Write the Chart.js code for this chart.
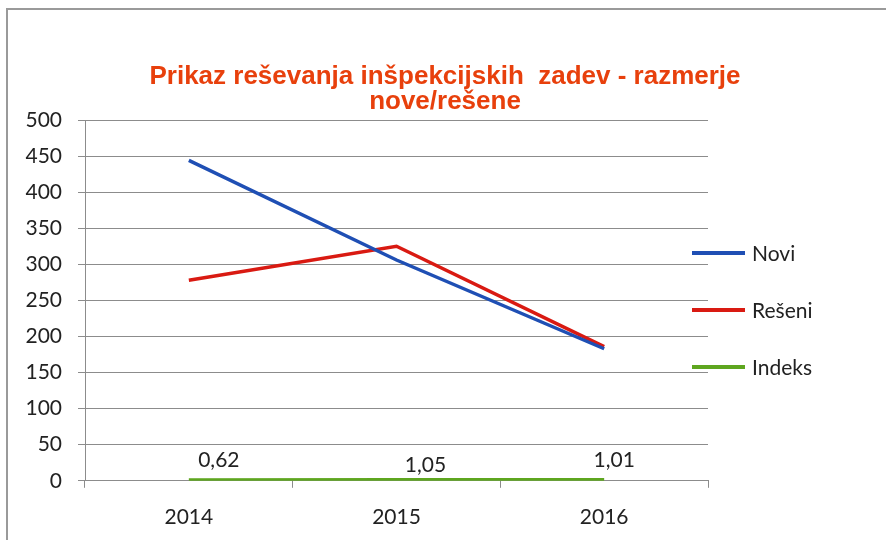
<!DOCTYPE html>
<html>
<head>
<meta charset="utf-8">
<script src="https://cdn.jsdelivr.net/npm/chart.js@4/dist/chart.umd.min.js"></script>
<style>
  html, body { margin: 0; padding: 0; background: #fff; }
  #wrap { position: relative; width: 886px; height: 540px; }
  #frame { position: absolute; left: 6px; top: 8px; width: 890px; height: 540px;
           border-left: 2px solid #9a9a9a; border-top: 2px solid #9a9a9a; }
  canvas { position: absolute; left: 0; top: 0; }
</style>
</head>
<body>
<div id="wrap">
  <div id="frame"></div>
  <canvas id="chart" width="886" height="540"></canvas>
</div>
<script>
// categories and series
var years = ['2014', '2015', '2016'];
var novi = [444, 306, 183];
var reseni = [278, 325, 186];
var indeks = [0.62, 1.05, 1.01];
var indeksLabels = ['0,62', '1,05', '1,01'];
var yTicks = [0, 50, 100, 150, 200, 250, 300, 350, 400, 450, 500];
var titleLines = ['Prikaz reševanja inšpekcijskih  zadev - razmerje', 'nove/rešene'];

var tickFont = { family: 'Lato, "Open Sans", sans-serif', size: 21 };

// title centred on the whole canvas, not just the plot
var titlePlugin = {
  id: 'pageTitle',
  afterDraw: function(chart) {
    var ctx = chart.ctx;
    ctx.save();
    ctx.font = 'bold 26px "Liberation Sans", Arial, sans-serif';
    ctx.fillStyle = '#e8400c';
    ctx.textAlign = 'center';
    ctx.textBaseline = 'alphabetic';
    titleLines.forEach(function(t, i) {
      ctx.fillText(t, chart.width / 2 + 2, 84 + i * 25);
    });
    ctx.restore();
  }
};

// labels above the Indeks line (Excel had them nudged to the right)
var indeksLabelPlugin = {
  id: 'indeksLabels',
  afterDatasetsDraw: function(chart) {
    var ctx = chart.ctx;
    var meta = chart.getDatasetMeta(2);
    var dx = [30, 29, 10];
    var dy = [-20, -15, -20];
    ctx.save();
    ctx.font = '21px Lato, "Open Sans", sans-serif';
    ctx.fillStyle = '#222';
    ctx.textAlign = 'center';
    ctx.textBaseline = 'middle';
    meta.data.forEach(function(pt, i) {
      ctx.fillText(indeksLabels[i], pt.x + dx[i], pt.y + dy[i]);
    });
    ctx.restore();
  }
};

// Excel-style legend that sits partly over the plot area
var sideLegendPlugin = {
  id: 'sideLegend',
  afterDraw: function(chart) {
    var ctx = chart.ctx;
    var area = chart.chartArea;
    ctx.save();
    ctx.font = '21px Lato, "Open Sans", sans-serif';
    ctx.textBaseline = 'middle';
    chart.data.datasets.forEach(function(ds, i) {
      var y = area.top + 133 + i * 57;
      var x0 = area.right - 16;
      ctx.strokeStyle = ds.borderColor;
      ctx.lineWidth = 4;
      ctx.beginPath();
      ctx.moveTo(x0, y);
      ctx.lineTo(x0 + 53, y);
      ctx.stroke();
      ctx.fillStyle = '#222';
      ctx.fillText(ds.label, x0 + 60, y + 1);
    });
    ctx.restore();
  }
};

var ctx = document.getElementById('chart').getContext('2d');
var chart = new Chart(ctx, {
  type: 'line',
  data: {
    labels: years,
    datasets: [
      { label: 'Novi', data: novi, borderColor: '#1f4fb4', backgroundColor: '#1f4fb4', borderWidth: 3.5, pointRadius: 0 },
      { label: 'Rešeni', data: reseni, borderColor: '#d91a12', backgroundColor: '#d91a12', borderWidth: 3.5, pointRadius: 0 },
      { label: 'Indeks', data: indeks, borderColor: '#5ea61f', backgroundColor: '#5ea61f', borderWidth: 4, pointRadius: 0 }
    ]
  },
  plugins: [titlePlugin, indeksLabelPlugin, sideLegendPlugin],
  options: {
    responsive: false,
    animation: false,
    layout: { padding: { left: 8, right: 178, top: 120, bottom: 10 } },
    plugins: {
      legend: { display: false },
      tooltip: { enabled: false },
      title: { display: false }
    },
    scales: {
      x: {
        offset: true,
        afterFit: function(s) { s.height = s.height - 17; },
        border: { color: '#8c8c8c' },
        grid: { drawOnChartArea: false, offset: true, tickLength: 7, color: '#8c8c8c' },
        ticks: { font: tickFont, color: '#222', padding: 17 }
      },
      y: {
        min: 0,
        max: 500,
        afterFit: function(s) { s.width = 77; },
        afterBuildTicks: function(s) { s.ticks = yTicks.map(function(v) { return { value: v }; }); },
        border: { color: '#8c8c8c' },
        grid: { color: '#8c8c8c', tickLength: 7 },
        ticks: { font: tickFont, color: '#222', padding: 16 }
      }
    }
  }
});
</script>
</body>
</html>
